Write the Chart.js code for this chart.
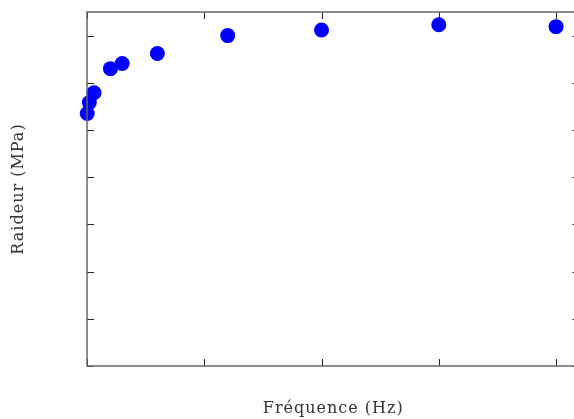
<!DOCTYPE html>
<html>
<head>
<meta charset="utf-8">
<script src="https://cdn.jsdelivr.net/npm/chart.js"></script>
<style>
  html, body { margin: 0; padding: 0; background: #fff; overflow: hidden; }
  #wrap { width: 574px; height: 419px; overflow: hidden; }
</style>
</head>
<body>
<div id="wrap"><canvas id="raideurChart" width="587" height="419"></canvas></div>
<script>
// Données
const frequences = [0.01, 0.1, 0.3, 1, 1.5, 3, 6, 10, 15, 20];
const raideurs = [5.35, 5.58, 5.79, 6.30, 6.41, 6.62, 7.0, 7.12, 7.23, 7.19];
const xTicks = [0, 5, 10, 15, 20];
const yTicks = [0, 1, 2, 3, 4, 5, 6, 7];

// cadre + graduations vers l'intérieur (style gnuplot)
const framePlugin = {
    id: 'frame',
    beforeDraw(chart) {
        chart.ctx.letterSpacing = '1px';
    },
    afterDraw(chart) {
        const ctx = chart.ctx;
        const a = chart.chartArea;
        const xs = chart.scales.x, ys = chart.scales.y;
        ctx.save();
        ctx.strokeStyle = '#222';
        ctx.lineWidth = 1;
        ctx.beginPath();
        xs.ticks.forEach(t => {
            const px = Math.round(xs.getPixelForValue(t.value)) + 0.5;
            ctx.moveTo(px, a.bottom); ctx.lineTo(px, a.bottom - 7);
            ctx.moveTo(px, a.top); ctx.lineTo(px, a.top + 7);
        });
        ys.ticks.forEach(t => {
            const py = Math.round(ys.getPixelForValue(t.value)) + 0.5;
            ctx.moveTo(a.left, py); ctx.lineTo(a.left + 7, py);
            ctx.moveTo(a.right, py); ctx.lineTo(a.right - 7, py);
        });
        ctx.stroke();
        ctx.strokeStyle = '#666';
        ctx.lineWidth = 1.5;
        ctx.strokeRect(a.left, a.top, a.right - a.left, a.bottom - a.top);
        ctx.restore();
    }
};

const ctx = document.getElementById('raideurChart').getContext('2d');
new Chart(ctx, {
    type: 'scatter',
    data: {
        datasets: [{
            label: 'Raideur',
            data: frequences.map((f, i) => ({x: f, y: raideurs[i]})),
            backgroundColor: '#0000ff',
            borderWidth: 0,
            pointRadius: 7.5,
            pointHoverRadius: 7.5,
            clip: false
        }]
    },
    options: {
        responsive: false,
        animation: false,
        layout: { padding: { top: 12, left: 0, right: 0, bottom: 0 } },
        scales: {
            x: {
                type: 'linear',
                min: 0,
                max: 21,
                afterBuildTicks: s => { s.ticks = xTicks.map(v => ({value: v})); },
                afterFit: s => { s.height = 53; },
                ticks: { display: false },
                grid: { display: false },
                border: { display: false },
                title: {
                    display: true,
                    text: 'Fréquence (Hz)',
                    color: '#333',
                    font: { family: 'DejaVu Serif', size: 16 },
                    padding: { top: 0, bottom: 1 }
                }
            },
            y: {
                type: 'linear',
                min: 0,
                max: 7.5,
                afterBuildTicks: s => { s.ticks = yTicks.map(v => ({value: v})); },
                afterFit: s => { s.width = 87; },
                ticks: { display: false },
                grid: { display: false },
                border: { display: false },
                title: {
                    display: true,
                    text: 'Raideur (MPa)',
                    color: '#333',
                    font: { family: 'DejaVu Serif', size: 16 },
                    padding: { top: 9, bottom: 0 }
                }
            }
        },
        plugins: {
            legend: { display: false },
            tooltip: { enabled: false }
        }
    },
    plugins: [framePlugin]
});
</script>
</body>
</html>
